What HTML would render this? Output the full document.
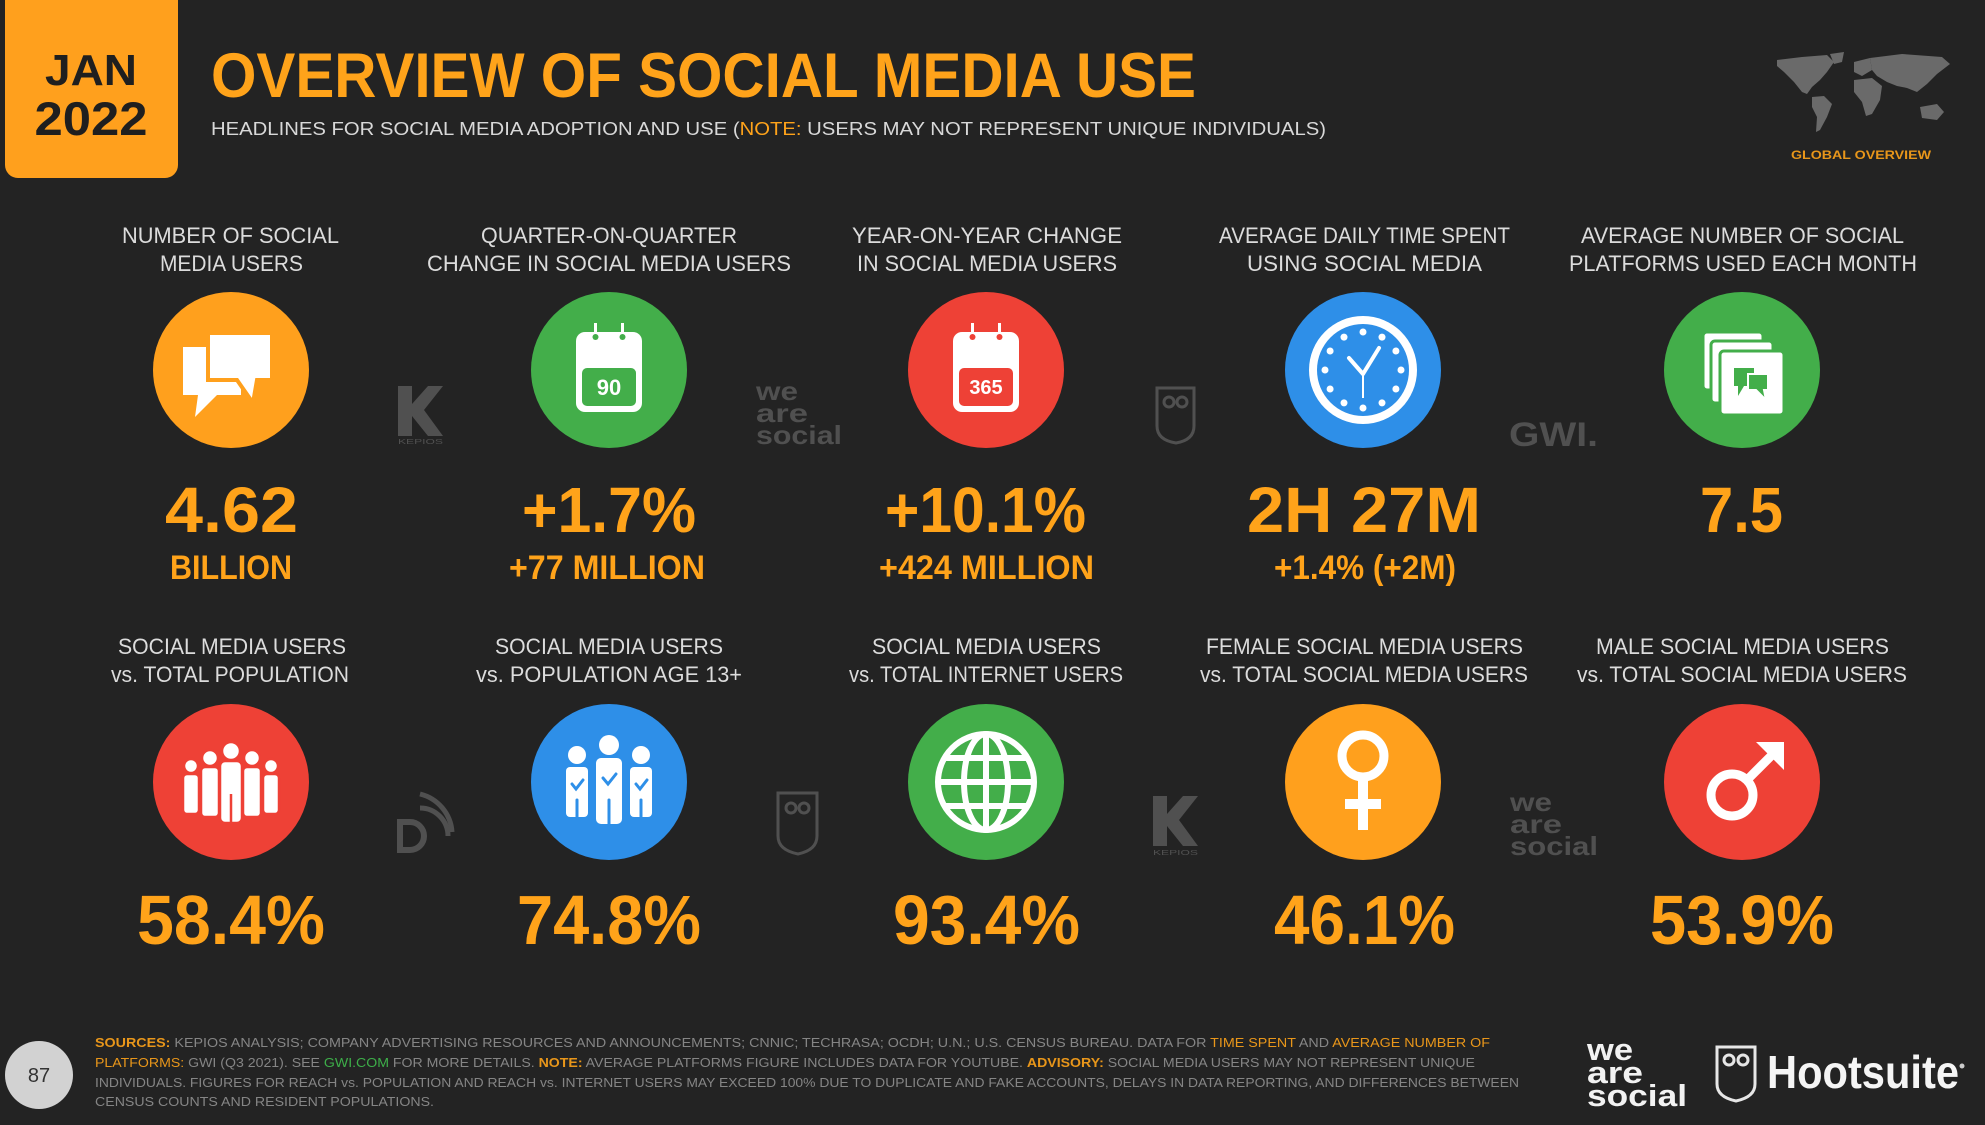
<!DOCTYPE html>
<html>
<head>
<meta charset="utf-8">
<style>
html,body{margin:0;padding:0;background:#232323;}
svg{display:block;}
text{font-family:"Liberation Sans",Arial,sans-serif;}
</style>
</head>
<body>
<svg width="1985" height="1125" viewBox="0 0 1985 1125" xmlns="http://www.w3.org/2000/svg">
<rect width="1985" height="1125" fill="#232323"/>

<!-- JAN 2022 box -->
<rect x="5" y="-14" width="173" height="192" rx="13" fill="#FFA01D"/>
<text x="91" y="85" text-anchor="middle" font-size="44" font-weight="bold" fill="#1f1f1f" textLength="92" lengthAdjust="spacingAndGlyphs">JAN</text>
<text x="91" y="135" text-anchor="middle" font-size="47" font-weight="bold" fill="#1f1f1f" textLength="113" lengthAdjust="spacingAndGlyphs">2022</text>

<!-- Title -->
<text x="211" y="97" font-size="63" font-weight="bold" fill="#FFA31A" textLength="985" lengthAdjust="spacingAndGlyphs">OVERVIEW OF SOCIAL MEDIA USE</text>
<text x="211" y="135" font-size="18" fill="#d8d8d8" textLength="1115" lengthAdjust="spacingAndGlyphs">HEADLINES FOR SOCIAL MEDIA ADOPTION AND USE (<tspan fill="#FFA31A">NOTE:</tspan> USERS MAY NOT REPRESENT UNIQUE INDIVIDUALS)</text>

<!-- World map -->
<g transform="translate(1772,52)" fill="#6a6a6a">
<path d="M5,8 L30,5 L55,3 L62,10 L55,20 L48,28 L40,35 L35,42 L30,40 L22,30 L12,20 L5,14 Z"/>
<path d="M58,2 L72,0 L70,10 L62,12 Z"/>
<path d="M40,45 L52,44 L60,52 L55,65 L48,78 L44,80 L45,65 L40,55 Z"/>
<path d="M82,10 L98,6 L100,18 L90,24 L82,20 Z"/>
<path d="M82,28 L100,26 L110,34 L108,48 L100,62 L94,64 L90,50 L82,40 Z"/>
<path d="M98,6 L130,2 L170,5 L178,12 L165,22 L155,32 L145,40 L135,36 L125,34 L115,30 L105,24 L100,18 Z"/>
<path d="M148,55 L165,52 L172,60 L165,68 L150,66 Z"/>
</g>
<text x="1791" y="159" font-size="12" font-weight="bold" fill="#E8961A" textLength="140" lengthAdjust="spacingAndGlyphs">GLOBAL OVERVIEW</text>

<!-- Row 1 labels -->
<g font-size="22" fill="#dcdcdc">
<text x="122" y="243" textLength="217" lengthAdjust="spacingAndGlyphs">NUMBER OF SOCIAL</text>
<text x="160" y="271" textLength="143" lengthAdjust="spacingAndGlyphs">MEDIA USERS</text>
<text x="481" y="243" textLength="256" lengthAdjust="spacingAndGlyphs">QUARTER-ON-QUARTER</text>
<text x="427" y="271" textLength="364" lengthAdjust="spacingAndGlyphs">CHANGE IN SOCIAL MEDIA USERS</text>
<text x="852" y="243" textLength="270" lengthAdjust="spacingAndGlyphs">YEAR-ON-YEAR CHANGE</text>
<text x="857" y="271" textLength="260" lengthAdjust="spacingAndGlyphs">IN SOCIAL MEDIA USERS</text>
<text x="1219" y="243" textLength="291" lengthAdjust="spacingAndGlyphs">AVERAGE DAILY TIME SPENT</text>
<text x="1247" y="271" textLength="235" lengthAdjust="spacingAndGlyphs">USING SOCIAL MEDIA</text>
<text x="1581" y="243" textLength="323" lengthAdjust="spacingAndGlyphs">AVERAGE NUMBER OF SOCIAL</text>
<text x="1569" y="271" textLength="348" lengthAdjust="spacingAndGlyphs">PLATFORMS USED EACH MONTH</text>
</g>

<!-- Row 2 labels -->
<g font-size="22" fill="#dcdcdc">
<text x="118" y="654" textLength="228" lengthAdjust="spacingAndGlyphs">SOCIAL MEDIA USERS</text>
<text x="111" y="682" textLength="238" lengthAdjust="spacingAndGlyphs">vs. TOTAL POPULATION</text>
<text x="495" y="654" textLength="228" lengthAdjust="spacingAndGlyphs">SOCIAL MEDIA USERS</text>
<text x="476" y="682" textLength="266" lengthAdjust="spacingAndGlyphs">vs. POPULATION AGE 13+</text>
<text x="872" y="654" textLength="229" lengthAdjust="spacingAndGlyphs">SOCIAL MEDIA USERS</text>
<text x="849" y="682" textLength="274" lengthAdjust="spacingAndGlyphs">vs. TOTAL INTERNET USERS</text>
<text x="1206" y="654" textLength="317" lengthAdjust="spacingAndGlyphs">FEMALE SOCIAL MEDIA USERS</text>
<text x="1200" y="682" textLength="328" lengthAdjust="spacingAndGlyphs">vs. TOTAL SOCIAL MEDIA USERS</text>
<text x="1596" y="654" textLength="293" lengthAdjust="spacingAndGlyphs">MALE SOCIAL MEDIA USERS</text>
<text x="1577" y="682" textLength="330" lengthAdjust="spacingAndGlyphs">vs. TOTAL SOCIAL MEDIA USERS</text>
</g>

<!-- Circles -->
<circle cx="231" cy="370" r="78" fill="#FFA01D"/>
<circle cx="609" cy="370" r="78" fill="#43AE4A"/>
<circle cx="986" cy="370" r="78" fill="#EE4136"/>
<circle cx="1363" cy="370" r="78" fill="#2E8FE8"/>
<circle cx="1742" cy="370" r="78" fill="#43AE4A"/>
<circle cx="231" cy="782" r="78" fill="#EE4136"/>
<circle cx="609" cy="782" r="78" fill="#2E8FE8"/>
<circle cx="986" cy="782" r="78" fill="#43AE4A"/>
<circle cx="1363" cy="782" r="78" fill="#FFA01D"/>
<circle cx="1742" cy="782" r="78" fill="#EE4136"/>

<!-- Icon 1: chat bubbles -->
<g transform="translate(231,370)">
<path d="M-48,-23 H10 V25 H-14 L-36,47 L-33,25 H-48 Z" fill="#fff"/>
<path d="M-23,-37 H41 V10 H26 L22,33 L6,10 H-23 Z" fill="#fff" stroke="#FFA01D" stroke-width="4"/>
</g>

<!-- Icon 2: calendar 90 -->
<g transform="translate(609,370)">
<rect x="-33" y="-38" width="66" height="80" rx="9" fill="#fff"/>
<rect x="-27" y="-2" width="54" height="38" rx="5" fill="#43AE4A"/>
<rect x="-15" y="-47" width="3" height="12" fill="#fff"/>
<rect x="12" y="-47" width="3" height="12" fill="#fff"/>
<circle cx="-13.5" cy="-33" r="3" fill="#43AE4A"/>
<circle cx="13.5" cy="-33" r="3" fill="#43AE4A"/>
<text x="0" y="25" text-anchor="middle" font-size="22" font-weight="bold" fill="#fff">90</text>
</g>

<!-- Icon 3: calendar 365 -->
<g transform="translate(986,370)">
<rect x="-33" y="-38" width="66" height="80" rx="9" fill="#fff"/>
<rect x="-27" y="-2" width="54" height="38" rx="5" fill="#EE4136"/>
<rect x="-15" y="-47" width="3" height="12" fill="#fff"/>
<rect x="12" y="-47" width="3" height="12" fill="#fff"/>
<circle cx="-13.5" cy="-33" r="3" fill="#EE4136"/>
<circle cx="13.5" cy="-33" r="3" fill="#EE4136"/>
<text x="0" y="24" text-anchor="middle" font-size="20" font-weight="bold" fill="#fff">365</text>
</g>

<!-- Icon 4: clock -->
<g transform="translate(1363,370)">
<circle r="54" fill="#fff"/>
<circle r="46" fill="#2E8FE8"/>
<g fill="#fff">
<circle cx="0" cy="-38" r="3.5"/><circle cx="19" cy="-32.9" r="3.5"/><circle cx="32.9" cy="-19" r="3.5"/>
<circle cx="38" cy="0" r="3.5"/><circle cx="32.9" cy="19" r="3.5"/><circle cx="19" cy="32.9" r="3.5"/>
<circle cx="0" cy="38" r="3.5"/><circle cx="-19" cy="32.9" r="3.5"/><circle cx="-32.9" cy="19" r="3.5"/>
<circle cx="-38" cy="0" r="3.5"/><circle cx="-32.9" cy="-19" r="3.5"/><circle cx="-19" cy="-32.9" r="3.5"/>
</g>
<path d="M-14,-12 L0,4 L16,-22" fill="none" stroke="#fff" stroke-width="4" stroke-linecap="round" stroke-linejoin="round"/>
<line x1="0" y1="4" x2="0" y2="28" stroke="#fff" stroke-width="2"/>
</g>

<!-- Icon 5: platforms -->
<g transform="translate(1742,370)">
<rect x="-39" y="-38" width="60" height="58" rx="4" fill="#fff" stroke="#43AE4A" stroke-width="3"/>
<rect x="-31" y="-29" width="62" height="62" rx="4" fill="#fff" stroke="#43AE4A" stroke-width="3"/>
<rect x="-22" y="-19" width="64" height="64" rx="4" fill="#fff" stroke="#43AE4A" stroke-width="3"/>
<path d="M-8,-2 H12 V16 H2 L-4,26 L-4,16 H-8 Z" fill="#43AE4A"/>
<path d="M6,4 H26 V20 H22 L24,30 L14,20 H6 Z" fill="#43AE4A" stroke="#fff" stroke-width="2"/>
</g>

<!-- Icon 6: group of people -->
<g transform="translate(231,782)" fill="#fff" stroke="#EE4136" stroke-width="2.5">
<circle cx="-40" cy="-16" r="7"/><rect x="-48" y="-8" width="16" height="40" rx="4"/>
<circle cx="40" cy="-16" r="7"/><rect x="32" y="-8" width="16" height="40" rx="4"/>
<circle cx="-21" cy="-24" r="8"/><rect x="-30" y="-15" width="18" height="50" rx="4"/>
<circle cx="21" cy="-24" r="8"/><rect x="12" y="-15" width="18" height="50" rx="4"/>
<circle cx="0" cy="-31" r="9"/><rect x="-11" y="-21" width="22" height="62" rx="5"/>
<line x1="0" y1="12" x2="0" y2="41"/>
</g>

<!-- Icon 7: three people with checks -->
<g transform="translate(609,782)">
<g fill="#fff">
<circle cx="-32" cy="-27" r="9"/><rect x="-43" y="-15" width="22" height="50" rx="4"/>
<circle cx="32" cy="-27" r="9"/><rect x="21" y="-15" width="22" height="50" rx="4"/>
<circle cx="0" cy="-37" r="10"/><rect x="-13" y="-24" width="26" height="66" rx="5"/>
</g>
<g fill="none" stroke="#2E8FE8" stroke-width="3" stroke-linecap="round">
<path d="M-37,2 L-33,7 L-26,-2"/><path d="M27,2 L31,7 L38,-2"/><path d="M-6,-4 L-1,2 L7,-8"/>
<line x1="-32" y1="18" x2="-32" y2="36"/><line x1="32" y1="18" x2="32" y2="36"/><line x1="0" y1="18" x2="0" y2="43"/>
</g>
</g>

<!-- Icon 8: globe -->
<g transform="translate(986,782)" fill="none" stroke="#fff" stroke-width="6">
<circle r="48"/>
<ellipse rx="22" ry="48"/>
<line x1="0" y1="-48" x2="0" y2="48"/>
<line x1="-48" y1="0" x2="48" y2="0"/>
<line x1="-42" y1="-24" x2="42" y2="-24"/>
<line x1="-42" y1="24" x2="42" y2="24"/>
</g>

<!-- Icon 9: female -->
<g transform="translate(1363,782)" fill="#fff">
<circle cx="0" cy="-26" r="21" fill="none" stroke="#fff" stroke-width="9"/>
<rect x="-5" y="-4" width="10" height="52"/>
<rect x="-18" y="17" width="36" height="10"/>
</g>

<!-- Icon 10: male -->
<g transform="translate(1742,782)">
<circle cx="-10" cy="13" r="21" fill="none" stroke="#fff" stroke-width="9"/>
<line x1="5" y1="-2" x2="30" y2="-27" stroke="#fff" stroke-width="9"/>
<path d="M14,-40 L42,-40 L42,-12 Z" fill="#fff"/>
</g>

<!-- Big numbers row 1 -->
<g font-weight="bold" fill="#FFA31A">
<text x="165" y="532" font-size="64" textLength="133" lengthAdjust="spacingAndGlyphs">4.62</text>
<text x="522" y="532" font-size="64" textLength="174" lengthAdjust="spacingAndGlyphs">+1.7%</text>
<text x="885" y="532" font-size="64" textLength="201" lengthAdjust="spacingAndGlyphs">+10.1%</text>
<text x="1247" y="532" font-size="64" textLength="234" lengthAdjust="spacingAndGlyphs">2H 27M</text>
<text x="1700" y="532" font-size="64" textLength="83" lengthAdjust="spacingAndGlyphs">7.5</text>
<text x="170" y="579" font-size="34" textLength="122" lengthAdjust="spacingAndGlyphs">BILLION</text>
<text x="509" y="579" font-size="34" textLength="196" lengthAdjust="spacingAndGlyphs">+77 MILLION</text>
<text x="879" y="579" font-size="34" textLength="215" lengthAdjust="spacingAndGlyphs">+424 MILLION</text>
<text x="1274" y="579" font-size="34" textLength="182" lengthAdjust="spacingAndGlyphs">+1.4% (+2M)</text>
<!-- row 2 -->
<text x="137" y="944" font-size="70" textLength="188" lengthAdjust="spacingAndGlyphs">58.4%</text>
<text x="517" y="944" font-size="70" textLength="184" lengthAdjust="spacingAndGlyphs">74.8%</text>
<text x="893" y="944" font-size="70" textLength="187" lengthAdjust="spacingAndGlyphs">93.4%</text>
<text x="1274" y="944" font-size="70" textLength="181" lengthAdjust="spacingAndGlyphs">46.1%</text>
<text x="1650" y="944" font-size="70" textLength="184" lengthAdjust="spacingAndGlyphs">53.9%</text>
</g>

<!-- Watermark logos row 1 -->
<g fill="#505050">
<!-- kepios -->
<path d="M398,386 H412 V404 L428,386 H443 L424,410 L443,436 H428 L412,416 V436 H398 Z"/>
<text x="398" y="444" font-size="7" textLength="45" lengthAdjust="spacingAndGlyphs">KEPIOS</text>
<!-- we are social -->
<g font-weight="bold" font-size="26">
<text x="756" y="400" textLength="42" lengthAdjust="spacingAndGlyphs">we</text>
<text x="756" y="422" textLength="52" lengthAdjust="spacingAndGlyphs">are</text>
<text x="756" y="444" textLength="86" lengthAdjust="spacingAndGlyphs">social</text>
</g>
<!-- GWI -->
<text x="1509" y="446" font-size="34" font-weight="bold" textLength="89" lengthAdjust="spacingAndGlyphs">GWI.</text>
</g>
<!-- owl shield row1 -->
<g fill="none" stroke="#505050" stroke-width="3">
<path d="M1157,388 L1194,388 L1194,426 Q1194,440 1176,443 Q1157,440 1157,426 Z"/>
<circle cx="1169" cy="402" r="5"/><circle cx="1182" cy="402" r="5"/>
</g>

<!-- Watermark logos row 2 -->
<g fill="none" stroke="#505050" stroke-width="5">
<path d="M420,808 A28,28 0 0 1 448,836"/>
<path d="M420,794 A42,42 0 0 1 452,832" />
<path d="M400,822 H410 A14,14 0 0 1 410,850 H400 Z" stroke-width="6"/>
</g>
<g fill="none" stroke="#505050" stroke-width="3">
<path d="M778,793 L817,793 L817,836 Q817,850 798,854 Q778,850 778,836 Z"/>
<circle cx="791" cy="808" r="5"/><circle cx="804" cy="808" r="5"/>
</g>
<g fill="#505050">
<path d="M1153,796 H1167 V814 L1183,796 H1198 L1179,820 L1198,846 H1183 L1167,826 V846 H1153 Z"/>
<text x="1153" y="855" font-size="7" textLength="45" lengthAdjust="spacingAndGlyphs">KEPIOS</text>
<g font-weight="bold" font-size="26">
<text x="1510" y="811" textLength="42" lengthAdjust="spacingAndGlyphs">we</text>
<text x="1510" y="833" textLength="52" lengthAdjust="spacingAndGlyphs">are</text>
<text x="1510" y="855" textLength="88" lengthAdjust="spacingAndGlyphs">social</text>
</g>
</g>

<!-- Footer -->
<circle cx="39" cy="1075" r="34" fill="#d2d2d2"/>
<text x="39" y="1082" text-anchor="middle" font-size="20" fill="#333">87</text>
<g font-size="13" fill="#858585">
<text x="95" y="1047" textLength="1395" lengthAdjust="spacingAndGlyphs"><tspan fill="#E8961A" font-weight="bold">SOURCES:</tspan> KEPIOS ANALYSIS; COMPANY ADVERTISING RESOURCES AND ANNOUNCEMENTS; CNNIC; TECHRASA; OCDH; U.N.; U.S. CENSUS BUREAU. DATA FOR <tspan fill="#E8961A">TIME SPENT</tspan> AND <tspan fill="#E8961A">AVERAGE NUMBER OF</tspan></text>
<text x="95" y="1067" textLength="1380" lengthAdjust="spacingAndGlyphs"><tspan fill="#E8961A">PLATFORMS:</tspan> GWI (Q3 2021). SEE <tspan fill="#3DAE49">GWI.COM</tspan> FOR MORE DETAILS. <tspan fill="#E8961A" font-weight="bold">NOTE:</tspan> AVERAGE PLATFORMS FIGURE INCLUDES DATA FOR YOUTUBE. <tspan fill="#E8961A" font-weight="bold">ADVISORY:</tspan> SOCIAL MEDIA USERS MAY NOT REPRESENT UNIQUE</text>
<text x="95" y="1087" textLength="1424" lengthAdjust="spacingAndGlyphs">INDIVIDUALS. FIGURES FOR REACH vs. POPULATION AND REACH vs. INTERNET USERS MAY EXCEED 100% DUE TO DUPLICATE AND FAKE ACCOUNTS, DELAYS IN DATA REPORTING, AND DIFFERENCES BETWEEN</text>
<text x="95" y="1106" textLength="339" lengthAdjust="spacingAndGlyphs">CENSUS COUNTS AND RESIDENT POPULATIONS.</text>
</g>

<!-- we are social logo -->
<g font-weight="bold" font-size="31" fill="#f2f2f2">
<text x="1587" y="1060" textLength="46" lengthAdjust="spacingAndGlyphs">we</text>
<text x="1587" y="1083" textLength="56" lengthAdjust="spacingAndGlyphs">are</text>
<text x="1587" y="1106" textLength="100" lengthAdjust="spacingAndGlyphs">social</text>
</g>
<!-- Hootsuite logo -->
<g fill="none" stroke="#e6e6e6" stroke-width="3">
<path d="M1717,1047 L1755,1047 L1755,1084 Q1755,1097 1736,1101 Q1717,1097 1717,1084 Z"/>
<circle cx="1729" cy="1060" r="5"/><circle cx="1743" cy="1060" r="5"/>
</g>
<text x="1767" y="1088" font-size="46" font-weight="bold" fill="#f5f5f5" textLength="192" lengthAdjust="spacingAndGlyphs">Hootsuite</text>
<circle cx="1962" cy="1066" r="2.5" fill="#ccc"/>
</svg>
</body>
</html>
